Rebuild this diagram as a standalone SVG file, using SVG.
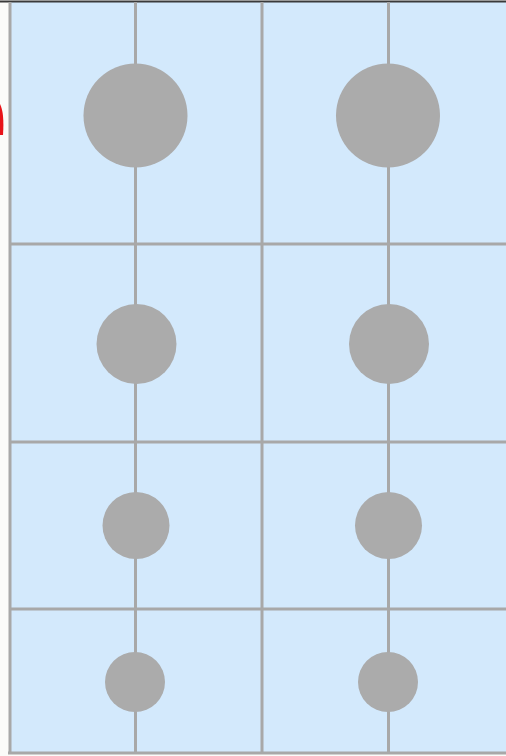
<svg xmlns="http://www.w3.org/2000/svg" width="506" height="756" viewBox="0 0 506 756">
  <style>
    .grid { stroke: #a8a8a8; stroke-width: 3; fill: none; }
    .dot { fill: #ababab; }
  </style>
  <rect x="0" y="0" width="506" height="756" fill="#fbfbf9"/>
  <rect x="10" y="2" width="496" height="750" fill="#d3e9fc"/>
  <line x1="0" y1="1.5" x2="506" y2="1.5" stroke="#3a3a3a" stroke-width="2"/>
  <path d="M0,104 C3,110 4,120 3,135 L0,135 Z" fill="#e8141a"/>
  <g id="grid">
    <line class="grid" x1="10" y1="2" x2="10" y2="754"/>
    <line class="grid" x1="8" y1="753" x2="506" y2="753"/>
    <line class="grid" x1="262" y1="2" x2="262" y2="753"/>
    <line class="grid" x1="10" y1="244" x2="506" y2="244"/>
    <line class="grid" x1="10" y1="442" x2="506" y2="442"/>
    <line class="grid" x1="10" y1="609" x2="506" y2="609"/>
    <line class="grid" x1="135.5" y1="2" x2="135.5" y2="753"/>
    <line class="grid" x1="388.5" y1="2" x2="388.5" y2="753"/>
  </g>
  <g id="c1r1"><circle class="dot" cx="135.5" cy="115.5" r="52"/></g>
  <g id="c2r1"><circle class="dot" cx="388" cy="115.5" r="52"/></g>
  <g id="c1r2"><circle class="dot" cx="136.5" cy="344" r="40"/></g>
  <g id="c2r2"><circle class="dot" cx="389" cy="344" r="40"/></g>
  <g id="c1r3"><circle class="dot" cx="136" cy="525.5" r="33.5"/></g>
  <g id="c2r3"><circle class="dot" cx="388.5" cy="525.5" r="33.5"/></g>
  <g id="c1r4"><circle class="dot" cx="135" cy="682" r="30"/></g>
  <g id="c2r4"><circle class="dot" cx="388" cy="682" r="30"/></g>
</svg>
